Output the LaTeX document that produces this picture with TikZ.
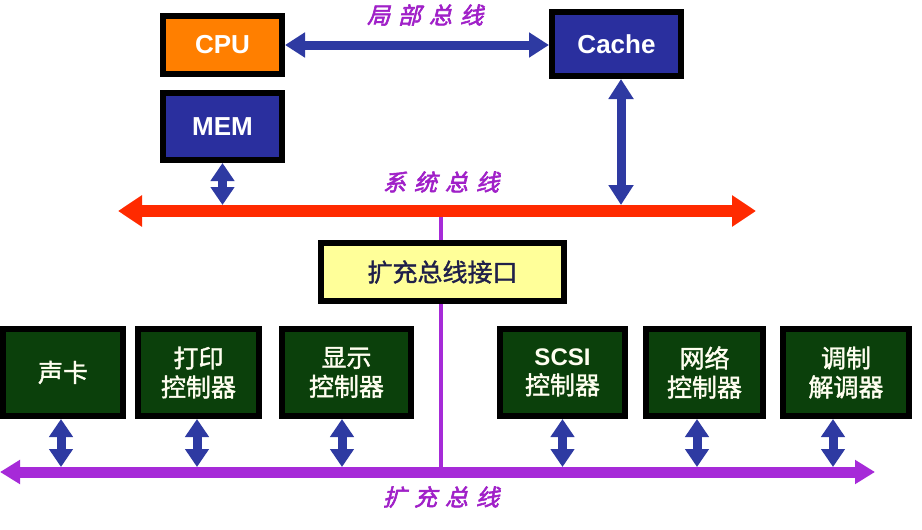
\documentclass[tikz,border=0pt]{standalone}
\usepackage{fontspec}
\setmainfont{Liberation Sans}
\newfontfamily\cjk[FakeBold=1.5]{Noto Sans CJK SC}
\newfontfamily\cjkit[FakeSlant=0.25,FakeBold=2.5]{Noto Sans CJK SC}
\usetikzlibrary{arrows.meta}
\definecolor{boxblue}{HTML}{2A2F9E}
\definecolor{arrblue}{HTML}{2E3AA2}
\definecolor{cpuorange}{HTML}{FF7F00}
\definecolor{boxgreen}{HTML}{0B400B}
\definecolor{boxyellow}{HTML}{FFFF99}
\definecolor{busred}{HTML}{FF2A00}
\definecolor{buspurple}{HTML}{A62AD8}
\definecolor{lblpurple}{HTML}{A020C8}
\definecolor{txtnavy}{HTML}{20204A}
\tikzset{
  unitbox/.style={draw=black, line width=6pt, inner sep=0pt, text=white, font=\fontsize{26}{30}\selectfont\bfseries},
  ctrlbox/.style={draw=black, line width=6pt, inner sep=0pt, fill=boxgreen, text=white!94!yellow, align=center,
    minimum height=87pt, font=\fontsize{25}{29}\selectfont\cjk},
  bluearr/.style={draw=arrblue, line width=9pt, arrows={Triangle[width=24pt,length=20pt]-Triangle[width=24pt,length=20pt]}},
  shortarr/.style={draw=arrblue, line width=9pt, arrows={Triangle[width=23pt,length=18pt]-Triangle[width=23pt,length=18pt]}},
  redbus/.style={draw=busred, line width=12pt, arrows={Triangle[width=30pt,length=24pt]-Triangle[width=30pt,length=24pt]}},
  purplebus/.style={draw=buspurple, line width=11pt, arrows={Triangle[width=23pt,length=20pt]-Triangle[width=23pt,length=20pt]}},
  purpleline/.style={draw=buspurple, line width=4pt},
  buslabel/.style={text=lblpurple, font=\fontsize{23}{26}\selectfont\cjkit}
}
\newcommand{\bsp}{\hspace{8pt}}
\begin{document}
\begin{tikzpicture}[x=1pt,y=-1pt]
\fill[white] (0,0) rectangle (922,530);
\useasboundingbox (0,0) rectangle (922,530);

% top units
\node[unitbox, fill=cpuorange, minimum width=119pt, minimum height=58pt] (cpu) at (222.5,45) {CPU};
\node[unitbox, fill=boxblue, minimum width=129pt, minimum height=64pt] (cache) at (616.5,44) {Cache};
\node[unitbox, fill=boxblue, minimum width=119pt, minimum height=67pt] (mem) at (222.5,126.5) {MEM};

% buses (coordinates)
\coordinate (sysL) at (118,211);
\coordinate (sysR) at (756,211);
\coordinate (sysTop) at (0,205);
\coordinate (expL) at (0,472);
\coordinate (expR) at (875,472);
\coordinate (expTop) at (0,467);
\coordinate (tap) at (441,211);

% interface box
\node[draw=black, line width=6pt, fill=boxyellow, text=txtnavy, minimum width=243pt, minimum height=58pt,
  font=\fontsize{25}{29}\selectfont\cjk] (iface) at (442.5,272) {扩充总线接口};

% purple vertical connections
\draw[purpleline] (tap) -- (tap |- iface.north);
\draw[purpleline] (tap |- iface.south) -- (tap |- expL);

% system bus
\draw[redbus] (sysL) -- (sysR);
\node[buslabel] (syslbl) at (441,182) {系\bsp 统\bsp 总\bsp 线};

% local bus
\draw[bluearr] (cpu.east) -- (cpu.east -| cache.west);
\node[buslabel] (loclbl) at (425,15) {局\bsp 部\bsp 总\bsp 线};

% cache to system bus
\draw[bluearr] ([xshift=4.5pt]cache.south) -- ([xshift=4.5pt]cache.south |- sysTop);
% mem to system bus
\draw[shortarr] (mem.south) -- (mem.south |- sysTop);

% controllers
\node[ctrlbox, minimum width=120pt] (sound) at (63,372.5) {声卡};
\node[ctrlbox, minimum width=121pt] (print) at (198.5,372.5) {打印\\控制器};
\node[ctrlbox, minimum width=129pt] (disp) at (346.5,372.5) {显示\\控制器};
\node[ctrlbox, minimum width=125pt] (scsi) at (562.5,372.5) {{\fontsize{24}{29}\selectfont\rmfamily\bfseries SCSI}\\控制器};
\node[ctrlbox, minimum width=117pt] (net) at (704.5,372.5) {网络\\控制器};
\node[ctrlbox, minimum width=126pt] (modem) at (846,372.5) {调制\\解调器};

% expansion bus
\draw[purplebus] (expL) -- (expR);
\node[buslabel] (explbl) at (441,497) {扩\bsp 充\bsp 总\bsp 线};

% controller arrows
\foreach \b/\dx in {sound/-2, print/-1.5, disp/-4.5, scsi/0, net/-7.5, modem/-13} {
  \draw[shortarr] ([xshift=\dx pt]\b.south) -- ([xshift=\dx pt]\b.south |- expTop);
}
\end{tikzpicture}
\end{document}
